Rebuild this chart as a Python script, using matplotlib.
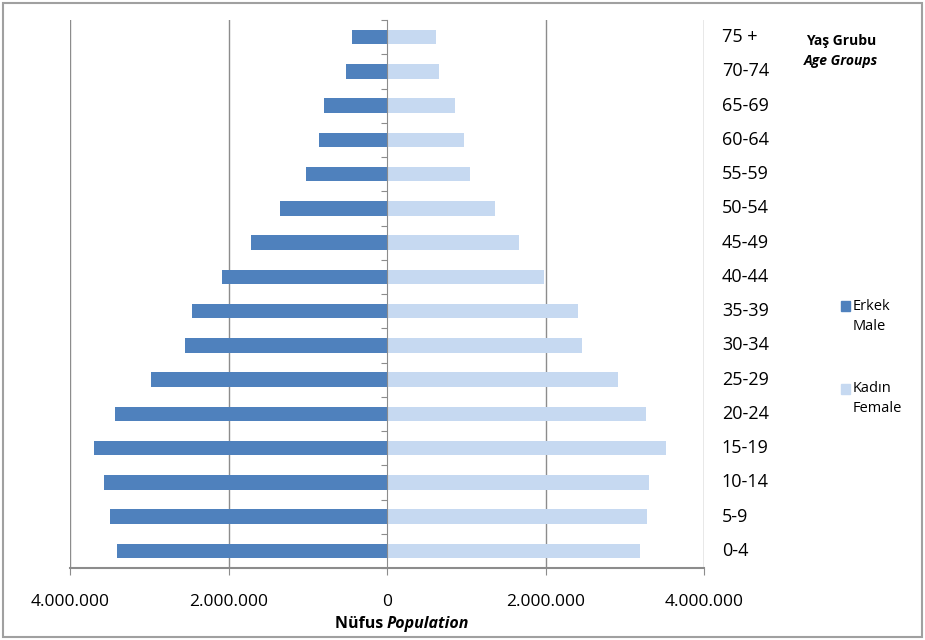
import numpy as np
import matplotlib.pyplot as plt
from matplotlib.patches import Rectangle
from matplotlib.transforms import blended_transform_factory
from matplotlib.ticker import FuncFormatter

plt.rcParams['font.family'] = ['Open Sans', 'DejaVu Sans']

# age groups from youngest to oldest
age_groups = ['0-4', '5-9', '10-14', '15-19', '20-24', '25-29', '30-34', '35-39',
              '40-44', '45-49', '50-54', '55-59', '60-64', '65-69', '70-74', '75 +']
male = [3402000, 3490000, 3573000, 3700000, 3432000, 2978000, 2553000, 2457000,
        2085000, 1712000, 1355000, 1020000, 863000, 796000, 514000, 447000]
female = [3190000, 3276000, 3310000, 3520000, 3268000, 2918000, 2464000, 2405000,
          1980000, 1668000, 1363000, 1050000, 975000, 857000, 656000, 618000]
xticks = [-4000000, -2000000, 0, 2000000, 4000000]

male_color = '#4F81BD'
female_color = '#C6D9F1'
grey = '#8C8C8C'

fig = plt.figure(figsize=(9.25, 6.4), dpi=100)
ax = fig.add_axes([70 / 925, 1 - 568 / 640, 634 / 925, 548 / 640])

y = np.arange(len(age_groups))
ax.barh(y, [-m for m in male], height=0.42, color=male_color, zorder=1)
ax.barh(y, female, height=0.42, color=female_color, zorder=1)

ax.set_xlim(-4000000, 4000000)
ax.set_ylim(-0.5, len(age_groups) - 0.5)

ax.set_xticks(xticks)
ax.xaxis.set_major_formatter(FuncFormatter(lambda v, p: f"{abs(int(v)):,}".replace(',', '.')))
ax.tick_params(axis='x', length=5, color=grey, labelsize=12.5, pad=14)
for v in xticks:
    if v != 0:
        ax.axvline(v, color=grey, lw=1, zorder=0)

ax.spines['top'].set_visible(False)
ax.spines['right'].set_visible(False)
ax.spines['bottom'].set_color(grey)
ax.spines['bottom'].set_linewidth(1.5)
ax.spines['left'].set_position(('data', 0))
ax.spines['left'].set_color(grey)
ax.set_yticks(np.arange(-0.5, len(age_groups), 1))
ax.set_yticklabels([])
ax.tick_params(axis='y', length=4, color=grey)

trans = blended_transform_factory(ax.transAxes, ax.transData)
for i, lab in enumerate(age_groups):
    ax.text(1.028, i, lab, transform=trans, ha='left', va='center', fontsize=13)

fig.text(387 / 925, 1 - 624 / 640, 'Nüfus ', ha='right', va='center',
         fontsize=11.5, fontweight='bold')
fig.text(387 / 925, 1 - 624 / 640, 'Population', ha='left', va='center',
         fontsize=11.5, fontweight='bold', style='italic')

fig.text(841 / 925, 1 - 41 / 640, 'Yaş Grubu', ha='center', va='center',
         fontsize=10, fontweight='bold')
fig.text(841 / 925, 1 - 61 / 640, 'Age Groups', ha='center', va='center',
         fontsize=10, fontweight='bold', style='italic')

# legend
for col, l1, l2, yc in [(male_color, 'Erkek', 'Male', 306), (female_color, 'Kadın', 'Female', 389)]:
    fig.patches.append(Rectangle((841 / 925, 1 - (yc + 5) / 640), 9 / 925, 10 / 640,
                                 transform=fig.transFigure, color=col))
    fig.text(853 / 925, 1 - yc / 640, l1, ha='left', va='center', fontsize=10.5)
    fig.text(853 / 925, 1 - (yc + 20) / 640, l2, ha='left', va='center', fontsize=10.5)

fig.patches.append(Rectangle((3 / 925, 3 / 640), 919 / 925, 634 / 640, transform=fig.transFigure,
                             fill=False, edgecolor='#A0A0A0', lw=1.5))

fig.savefig('out.png', dpi=100)
